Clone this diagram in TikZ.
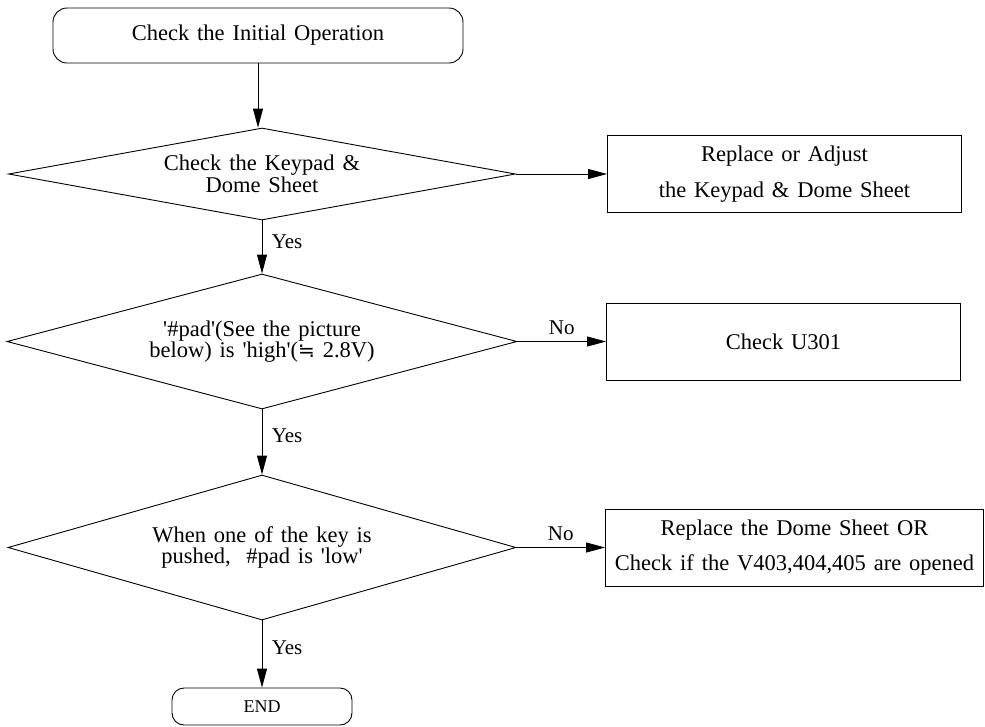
\documentclass[tikz,border=0pt]{standalone}
\usepackage{fontspec}
\setmainfont{Liberation Serif}[WordSpace=1.4]
\newfontfamily\symfont{DejaVu Sans}
\usetikzlibrary{shapes.geometric,arrows.meta}
\newcommand{\sq}{\textquotesingle}

\begin{document}
\begin{tikzpicture}[x=1pt,y=-1pt,line width=0.9pt,
    txt/.style={font=\fontsize{22.5}{19}\selectfont, align=center},
    term/.style={txt, draw, rounded corners=14pt},
    decide/.style={txt, draw, diamond, inner sep=0pt},
    fixbox/.style={txt, draw, minimum width=354pt, minimum height=77pt},
    lbl/.style={font=\fontsize{21}{22}\selectfont},
    flow/.style={-{Triangle[length=19pt,width=10pt]}}]
    \useasboundingbox (0,0) rectangle (985,726);
    % main column
    \node[term, minimum width=410pt, minimum height=55pt] (start) at (258,35.5) {Check the Initial Operation};
    \node[decide, aspect=5.5, minimum width=507pt, minimum height=92pt] (dome) at (262,174) {Check the Keypad \&\\Dome Sheet};
    \node[decide, aspect=3.8, minimum width=510pt, minimum height=135pt] (pad) at (262,341.5) {\sq\#pad\sq(See the picture\\below) is \sq high\sq({\symfont\fontsize{20}{19}\selectfont ≒} 2.8V)};
    \node[decide, aspect=3.5, minimum width=508pt, minimum height=145pt] (key) at (262,547.5) {When one of the key is\\pushed, \ \#pad is \sq low\sq};
    \node[term, font=\fontsize{18}{20}\selectfont, rounded corners=12pt, minimum width=180pt, minimum height=37pt] (stop) at (262,706.5) {END};
    % right column
    \node[fixbox] (fixdome) at (784.5,174) {Replace or Adjust\\[14pt]the Keypad \& Dome Sheet};
    \node[fixbox] (fixu) at (783.5,341.5) {Check U301};
    \node[fixbox, minimum width=378pt] (fixv) at (794.5,547.5) {Replace the Dome Sheet OR\\[14pt]Check if the V403,404,405 are opened};
    %
    \draw[flow] (start.south) -- (start.south |- dome.north);
    \draw[flow] (dome.east) -- (fixdome.west);
    \draw[flow] (dome.south) -- node[lbl, right, pos=.4, xshift=6pt] {Yes} (pad.north);
    \draw[flow] (pad.east) -- node[lbl, above=3pt] {No} (fixu.west);
    \draw[flow] (pad.south) -- node[lbl, right, pos=.4, xshift=6pt] {Yes} (key.north);
    \draw[flow] (key.east) -- node[lbl, above=3pt] {No} (fixv.west);
    \draw[flow] (key.south) -- node[lbl, right, pos=.4, xshift=6pt] {Yes} (stop.north);
\end{tikzpicture}
\end{document}
